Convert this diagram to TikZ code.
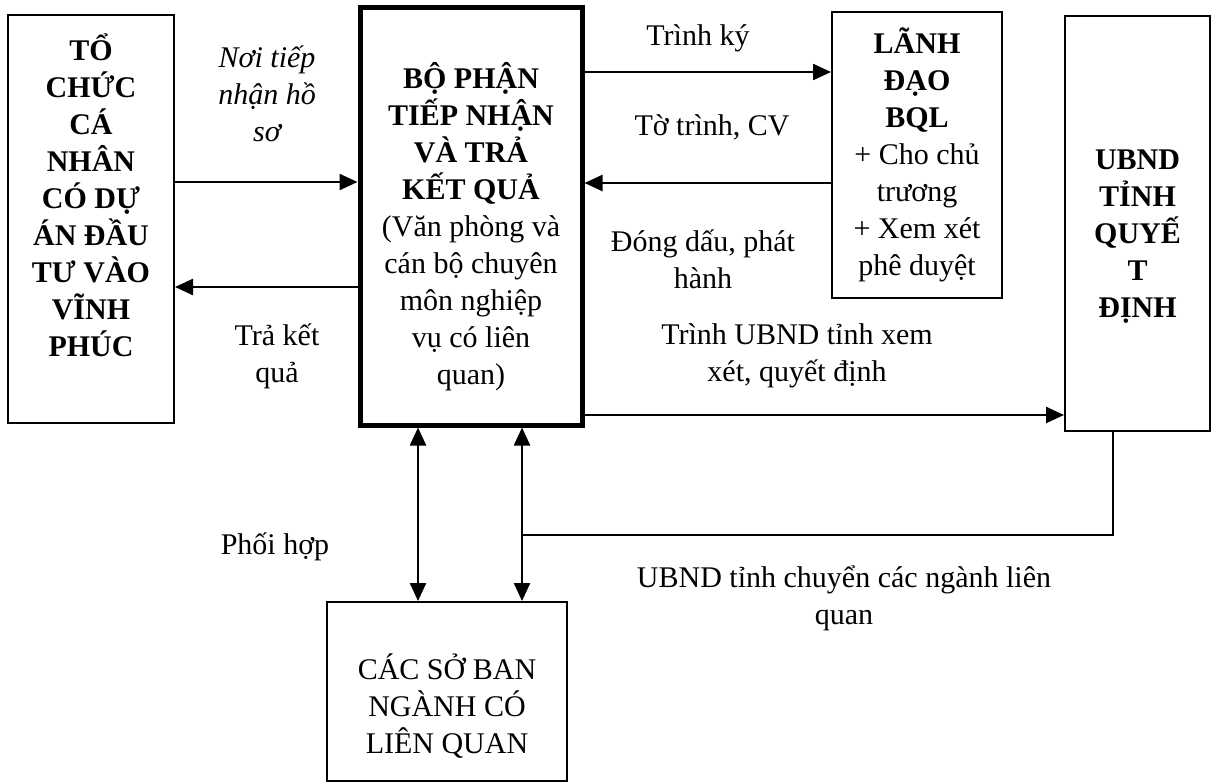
\documentclass[tikz,border=0pt]{standalone}
\usepackage{fontspec}
\setmainfont{Liberation Serif}
\usetikzlibrary{arrows.meta,positioning}

\begin{document}
\begin{tikzpicture}[x=0.5pt,y=-0.5pt,
    every node/.style={font=\fontsize{15}{18.5}\selectfont, align=center},
    box/.style={draw, line width=1pt, inner sep=0pt},
    arr/.style={-{Triangle[length=9pt,width=8pt]}, line width=1.2pt},
    twoarr/.style={{Triangle[length=9pt,width=8pt]}-{Triangle[length=9pt,width=8pt]}, line width=1.2pt}]
    \useasboundingbox (0,0) rectangle (1213,782);

    % boxes
    \node(to) at (91,219) [box, minimum width=83pt, minimum height=204pt]
      {\bfseries TỔ\\\bfseries CHỨC\\\bfseries CÁ\\\bfseries NHÂN\\\bfseries CÓ DỰ\\\bfseries ÁN ĐẦU\\\bfseries TƯ VÀO\\\bfseries VĨNH\\\bfseries PHÚC\\[5.5pt]\mbox{}};
    \node(bp) at (471,216) [box, line width=2.5pt, minimum width=111pt, minimum height=209pt]
      {\strut\\[-8.5pt]\bfseries BỘ PHẬN\\\bfseries TIẾP NHẬN\\\bfseries VÀ TRẢ\\\bfseries KẾT QUẢ\\(Văn phòng và\\cán bộ chuyên\\môn nghiệp\\vụ có liên\\quan)};
    \node(ld) at (917,155) [box, minimum width=85pt, minimum height=143pt]
      {\bfseries LÃNH\\\bfseries ĐẠO\\\bfseries BQL\\+ Cho chủ\\trương\\+ Xem xét\\phê duyệt};
    \node(ub) at (1137.5,223.5) [box, minimum width=72.5pt, minimum height=207.5pt]
      {\strut\\[-8.5pt]\bfseries UBND\\\bfseries TỈNH\\\bfseries QUYẾ\\\bfseries T\\\bfseries ĐỊNH};
    \node(cs) at (447,691.5) [box, minimum width=120pt, minimum height=89.5pt]
      {\strut\\[-4.5pt]CÁC SỞ BAN\\NGÀNH CÓ\\LIÊN QUAN};

    % labels
    \node(noi) at (267,94) {\itshape Nơi tiếp\\\itshape nhận hồ\\\itshape sơ};
    \node(tra) at (277,356) {Trả kết\\quả};
    \node(tky) at (698,38) {Trình ký};
    \node(ttr) at (712,127) {Tờ trình, CV};
    \node(dd) at (703,259) {Đóng dấu, phát\\hành};
    \node(tub) at (797,356) {Trình UBND tỉnh xem\\xét, quyết định};
    \node(ph) at (275,547) {Phối hợp};
    \node(uch) at (844,598) {UBND tỉnh chuyển các ngành liên\\quan};

    \coordinate(gap) at (522,535);

    % connectors
    \draw[arr] (to.east |- 0,182) -- (bp.west |- 0,182);
    \draw[arr] (bp.west |- 0,287) -- (to.east |- 0,287);
    \draw[arr] (bp.east |- 0,72) -- (ld.west |- 0,72);
    \draw[arr] (ld.west |- 0,183) -- (bp.east |- 0,183);
    \draw[arr] (bp.east |- 0,415) -- (ub.west |- 0,415);
    \draw[twoarr] (bp.south -| 418,0) -- (cs.north -| 418,0);
    \draw[twoarr] (bp.south -| gap) -- (cs.north -| gap);
    \draw[line width=1.2pt] (ub.south -| 1113,0) |- (gap);
\end{tikzpicture}
\end{document}
